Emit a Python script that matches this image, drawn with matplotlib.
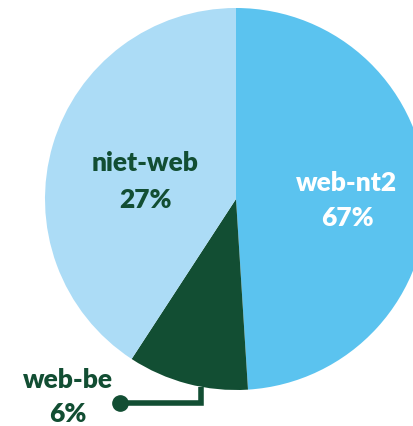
import matplotlib
matplotlib.use("Agg")
import matplotlib.pyplot as plt

# slice sizes as drawn in the picture (clockwise from 12 o'clock)
names = ["web-nt2", "web-be", "niet-web"]
shares = [49.0, 10.2, 40.8]
pct_labels = ["67%", "6%", "27%"]
colors = ["#5bc3ef", "#124e33", "#acdcf6"]
txt_colors = ["white", "#124e33", "#124e33"]

W, H = 413, 427
cx, cy, r = 236, 227, 191

fig = plt.figure(figsize=(W / 100, H / 100), dpi=100)
ax = fig.add_axes([0, 0, 1, 1])

ax.pie(shares, colors=colors, startangle=90, counterclock=False,
       center=(cx, cy), radius=r, frame=True,
       wedgeprops=dict(linewidth=0))
ax.set_xlim(0, W)
ax.set_ylim(0, H)
ax.axis("off")

# label positions (pixel coords from top): name line, percent line
label_pos = [(347, 183, 218), (68, 380, 414), (145, 163, 200)]
for name, pct, (x, y1, y2), c in zip(names, pct_labels, label_pos, txt_colors):
    ax.text(x, H - y1, name, ha="center", va="center", color=c,
            fontsize=19, fontweight="heavy", family="Lato")
    ax.text(x, H - y2, pct, ha="center", va="center", color=c,
            fontsize=19, fontweight="heavy", family="Lato")

# connector for the small slice
ax.plot([201, 201, 120], [H - 388, H - 404, H - 404], color="#124e33",
        lw=4, solid_capstyle="butt", solid_joinstyle="miter")
ax.plot([120], [H - 404], "o", color="#124e33", ms=11)

fig.savefig("out.png", dpi=100)
